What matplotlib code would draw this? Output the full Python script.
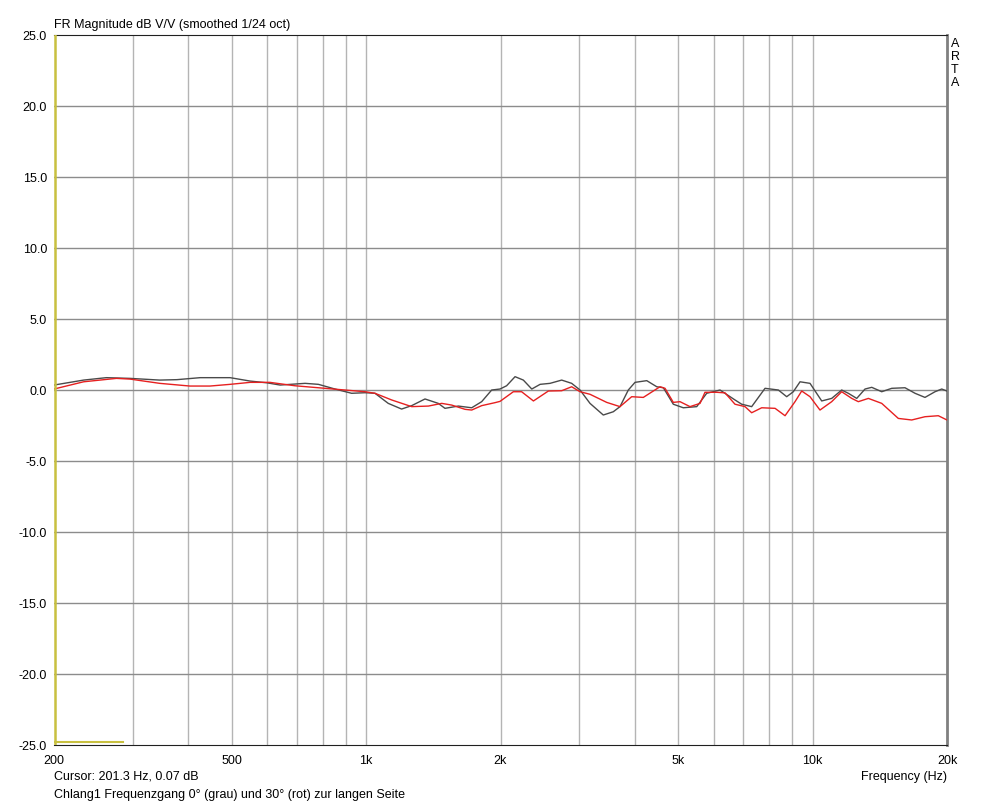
import numpy as np
import matplotlib.pyplot as plt
from matplotlib.ticker import FixedLocator, NullLocator

# Frequenzgang 0 Grad (grau)
freq_0 = [200, 233, 262, 296, 345, 377, 425, 496, 550, 599, 642, 730, 782, 852, 928,
          995, 1047, 1121, 1201, 1265, 1355, 1451, 1502, 1609, 1724, 1815, 1911, 1995,
          2064, 2156, 2250, 2350, 2453, 2582, 2742, 2887, 3014, 3173, 3398, 3578, 3704,
          3866, 4002, 4252, 4477, 4632, 4876, 5134, 5502, 5792, 6204, 6702, 6938, 7304,
          7825, 8383, 8750, 9054, 9373, 9868, 10482, 11036, 11619, 12023, 12556, 13105,
          13567, 14284, 15040, 16107, 16959, 17853, 18800, 19464, 20000]
db_0 = [0.35, 0.70, 0.87, 0.82, 0.70, 0.73, 0.87, 0.87, 0.63, 0.51, 0.35, 0.47, 0.40,
        0.07, -0.23, -0.19, -0.23, -0.94, -1.34, -1.10, -0.63, -0.94, -1.29, -1.13,
        -1.25, -0.82, 0.00, 0.07, 0.30, 0.94, 0.70, 0.07, 0.40, 0.47, 0.70, 0.47, 0.00,
        -0.94, -1.76, -1.53, -1.17, 0.00, 0.54, 0.66, 0.23, 0.16, -1.00, -1.25, -1.17,
        -0.23, 0.00, -0.70, -1.00, -1.17, 0.12, 0.00, -0.47, -0.12, 0.58, 0.47, -0.77,
        -0.59, 0.00, -0.23, -0.59, 0.07, 0.19, -0.12, 0.12, 0.16, -0.23, -0.52, -0.12,
        0.07, -0.07]

# Frequenzgang 30 Grad (rot)
freq_30 = [200, 233, 276, 296, 345, 403, 447, 496, 550, 609, 642, 693, 809, 995, 1047,
           1141, 1265, 1379, 1477, 1555, 1666, 1724, 1815, 1944, 1995, 2137, 2230, 2370,
           2560, 2742, 2887, 3014, 3173, 3458, 3704, 3934, 4177, 4552, 4672, 4876, 5047,
           5315, 5597, 5741, 6100, 6366, 6702, 7058, 7304, 7692, 8241, 8676, 9134, 9454,
           9868, 10388, 11036, 11619, 12238, 12660, 13333, 14284, 15560, 16672, 17853,
           19122, 20000]
db_30 = [0.07, 0.58, 0.82, 0.77, 0.47, 0.28, 0.28, 0.40, 0.54, 0.54, 0.44, 0.30, 0.12,
         -0.12, -0.23, -0.70, -1.17, -1.13, -0.94, -1.06, -1.36, -1.41, -1.10, -0.89,
         -0.80, -0.12, -0.12, -0.77, -0.07, -0.05, 0.23, -0.12, -0.30, -0.87, -1.17,
         -0.47, -0.52, 0.23, 0.12, -0.87, -0.82, -1.17, -0.94, -0.16, -0.16, -0.20,
         -1.00, -1.17, -1.60, -1.25, -1.29, -1.81, -0.82, -0.07, -0.47, -1.41, -0.82,
         -0.12, -0.59, -0.82, -0.59, -0.94, -2.00, -2.11, -1.88, -1.81, -2.11]

x_ticks = [200, 500, 1000, 2000, 5000, 10000, 20000]
x_labels = ['200', '500', '1k', '2k', '5k', '10k', '20k']
x_grid = [300, 400, 500, 600, 700, 800, 900, 1000, 2000, 3000, 4000, 5000,
          6000, 7000, 8000, 9000, 10000]
y_ticks = np.arange(-25, 26, 5)

plt.rcParams['font.family'] = ['Liberation Sans', 'DejaVu Sans']

fig = plt.figure(figsize=(10, 8.05), dpi=100)
ax = fig.add_axes([0.054, 0.0745, 0.893, 0.882])

ax.set_xscale('log')
ax.set_xlim(200, 20000)
ax.set_ylim(-25, 25)

for f in x_grid:
    ax.axvline(f, color='#b4b4b4', lw=1, zorder=1)
for y in y_ticks[1:-1]:
    ax.axhline(y, color='#8c8c8c', lw=1, zorder=1)

ax.plot(freq_0, db_0, color='#4a4a4a', lw=1, zorder=3)
ax.plot(freq_30, db_30, color='#e62020', lw=1, zorder=4)

# Cursor
ax.axvline(201.3, color='#c8c040', lw=1.8, zorder=5)
ax.plot([200, 285], [-24.8, -24.8], color='#c8c040', lw=1.5, zorder=5)

ax.xaxis.set_major_locator(FixedLocator(x_ticks))
ax.xaxis.set_minor_locator(NullLocator())
ax.set_xticklabels(x_labels)
ax.set_yticks(y_ticks)
ax.set_yticklabels([f'{v:.1f}' for v in y_ticks])
ax.tick_params(length=0, labelsize=9)
ax.tick_params(axis='x', pad=7)
ax.tick_params(axis='y', pad=5)

for side in ['top', 'bottom']:
    ax.spines[side].set_color('#202020')
ax.spines['right'].set_color('#808080')
ax.spines['right'].set_linewidth(2)
ax.spines['left'].set_visible(False)

fig.text(0.054, 0.962, 'FR Magnitude dB V/V (smoothed 1/24 oct)', fontsize=9, va='bottom')
fig.text(0.955, 0.953, 'A\nR\nT\nA', fontsize=9, va='top', ha='center', linespacing=1.12)
fig.text(0.947, 0.035, 'Frequency (Hz)', fontsize=9, ha='right', va='center')
fig.text(0.054, 0.035, 'Cursor: 201.3 Hz, 0.07 dB', fontsize=9, va='center')
fig.text(0.054, 0.013, 'Chlang1 Frequenzgang 0° (grau) und 30° (rot) zur langen Seite',
         fontsize=9, va='center')

fig.savefig('out.png', dpi=100, facecolor='white')
